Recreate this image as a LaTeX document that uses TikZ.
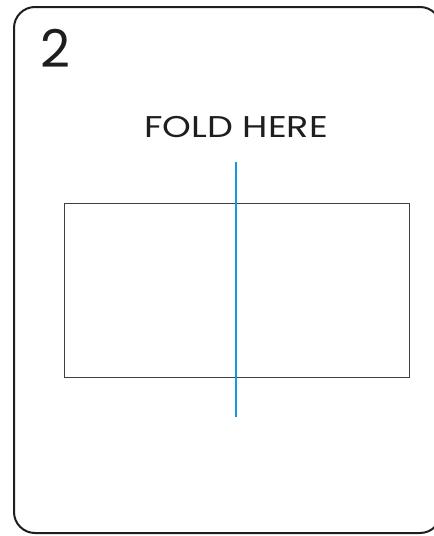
\documentclass[tikz,border=0pt]{standalone}
\usepackage{fontspec}
\setmainfont{Poppins}
\newfontfamily\widesans[FakeStretch=1.22]{Poppins}
\usepackage{xcolor}
\usetikzlibrary{positioning}
\definecolor{foldblue}{RGB}{20,155,220}
\definecolor{cardgray}{RGB}{30,30,30}

\begin{document}
\begin{tikzpicture}[x=1pt, y=-1pt,
  card/.style={draw=cardgray, line width=2pt, rounded corners=21pt},
  flap/.style={draw=cardgray!85, line width=1pt},
  foldline/.style={draw=foldblue, line width=2.4pt},
  every node/.style={inner sep=0pt, text=cardgray}
]
\useasboundingbox (0,0) rectangle (434,536);
\clip (0,0) rectangle (434,536);
\draw[card] (14,7) [rounded corners=21pt] -- (14,533) -- (441,533) -- (441,7) -- cycle;
\node[anchor=north west, font=\fontsize{52}{52}\selectfont] (num) at (40,29) {2};
\node[anchor=north, font=\widesans\fontsize{30}{30}\selectfont] (title) at (236,116) {FOLD HERE};
\draw[flap] (64,203) rectangle (409,377);
\coordinate (ftop) at (236,162);
\coordinate (fbot) at (236,417);
\draw[foldline] (ftop) -- (fbot);
\end{tikzpicture}
\end{document}
